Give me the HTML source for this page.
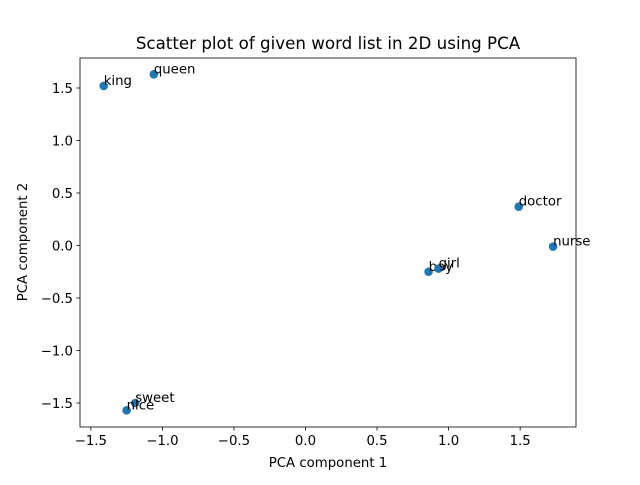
<!DOCTYPE html>
<html><head><meta charset="utf-8"><style>
body{margin:0;background:#fff}
svg text{font-family:"DejaVu Sans","Liberation Sans",sans-serif;fill:#000}
</style></head><body>
<svg id="chart" width="640" height="480" viewBox="0 0 640 480">
<rect width="640" height="480" fill="#fff"/>
<text x="328" y="49" font-size="16.7" text-anchor="middle">Scatter plot of given word list in 2D using PCA</text>
<g id="xticks"></g><g id="yticks"></g><g id="points"></g>
<rect x="80" y="58" width="496" height="369" fill="none" stroke="#000" stroke-width="0.8"/>
<text x="328" y="467" font-size="13.3" text-anchor="middle">PCA component 1</text>
<text transform="translate(27,242) rotate(-90)" font-size="13.3" text-anchor="middle">PCA component 2</text>
</svg>
<script>
const words=["king","queen","doctor","nurse","boy","girl","sweet","nice"];
const xs=[-1.41,-1.06,1.49,1.73,0.86,0.93,-1.19,-1.25];
const ys=[1.52,1.63,0.37,-0.01,-0.25,-0.22,-1.50,-1.57];
const xTicks=[-1.5,-1.0,-0.5,0.0,0.5,1.0,1.5];
const yTicks=[-1.5,-1.0,-0.5,0.0,0.5,1.0,1.5];
const NS="http://www.w3.org/2000/svg";
const X=v=>305.5+v*143.1, Y=v=>245.5+v*-105;
function mk(t,a,p){const e=document.createElementNS(NS,t);for(const k in a)e.setAttribute(k,a[k]);p.appendChild(e);return e;}
const xg=document.getElementById('xticks'),yg=document.getElementById('yticks'),pg=document.getElementById('points');
xTicks.forEach(v=>{const x=X(v);
const l=mk('line',{x1:x,x2:x,y1:427,y2:430.5,stroke:'#000','stroke-width':0.8},xg);


const t=mk('text',{x:x,y:445,'font-size':13.3,'text-anchor':'middle'},xg);t.textContent=(v<0?'\u2212':'')+Math.abs(v).toFixed(1);

});
yTicks.forEach(v=>{const y=Y(v);
const l=mk('line',{x1:76.5,x2:80,y1:y,y2:y,stroke:'#000','stroke-width':0.8},yg);


const t=mk('text',{x:73,y:y+5,'font-size':13.3,'text-anchor':'end'},yg);t.textContent=(v<0?'\u2212':'')+Math.abs(v).toFixed(1);

});
words.forEach((w,i)=>{const cx=X(xs[i]),cy=Y(ys[i]);
const c=mk('circle',{cx:cx,cy:cy,r:4.3,fill:'#1f77b4'},pg);


const t=mk('text',{x:cx,y:cy-1,'font-size':13.3},pg);t.textContent=w;

});
</script>
</body></html>
